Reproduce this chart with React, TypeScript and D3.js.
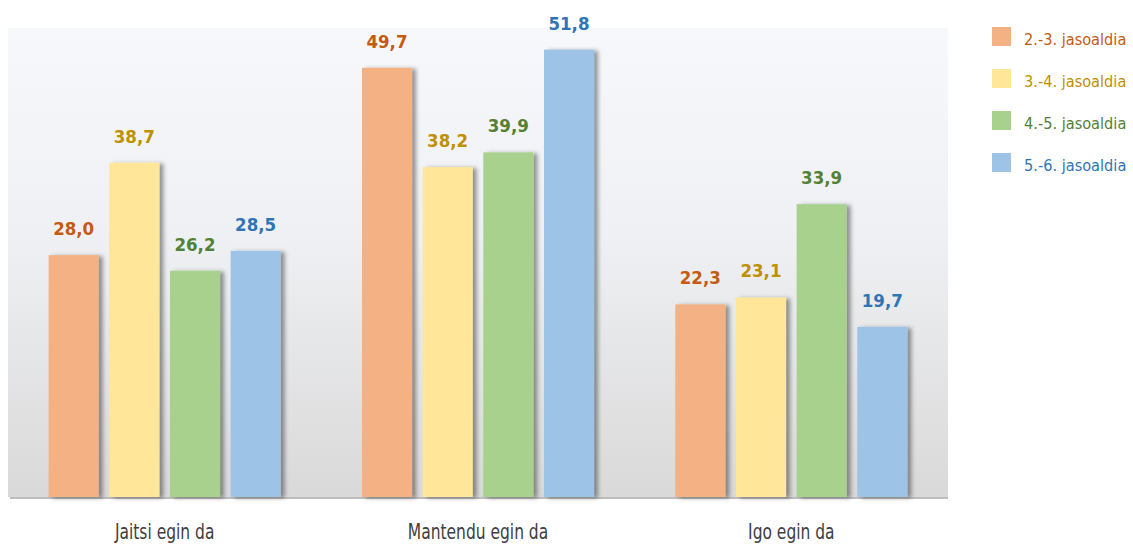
import React from 'react';
import * as d3 from 'd3';

const categories = ['Jaitsi egin da', 'Mantendu egin da', 'Igo egin da'];
const seriesNames = ['2.-3. jasoaldia', '3.-4. jasoaldia', '4.-5. jasoaldia', '5.-6. jasoaldia'];
const values2to3 = [28.0, 49.7, 22.3];
const values3to4 = [38.7, 38.2, 23.1];
const values4to5 = [26.2, 39.9, 33.9];
const values5to6 = [28.5, 51.8, 19.7];
const barColors = ['#f4b183', '#ffe699', '#a9d18e', '#9dc3e6'];
const textColors = ['#c55a11', '#bf9000', '#538135', '#2e75b6'];

const seriesValues = [values2to3, values3to4, values4to5, values5to6];
const font = '"DejaVu Sans Condensed", "DejaVu Sans", sans-serif';

export default function App() {
  const width = 1133;
  const height = 544;
  const plot = { left: 8, right: 948, top: 28, bottom: 497 };

  const x0 = d3.scaleBand().domain(categories).range([plot.left, plot.right]).padding(0);
  const x1 = d3
    .scaleBand()
    .domain(seriesNames)
    .range([0, x0.bandwidth()])
    .paddingInner(0.175)
    .paddingOuter(0.67);
  const y = d3.scaleLinear().domain([0, 54.3]).range([plot.bottom, plot.top]);

  const fmt = (v: number) => v.toFixed(1).replace('.', ',');

  return (
    <svg width={width} height={height} style={{ position: 'absolute', left: 0, top: 0 }}>
      <defs>
        <linearGradient id="bg" x1="0" y1="0" x2="0" y2="1">
          <stop offset="0%" stopColor="#f7f8fc" />
          <stop offset="45%" stopColor="#eff0f3" />
          <stop offset="100%" stopColor="#d9d9d9" />
        </linearGradient>
        <filter id="shadow" x="-20%" y="-10%" width="160%" height="120%">
          <feDropShadow dx="4" dy="1" stdDeviation="2" floodColor="#000" floodOpacity="0.4" />
        </filter>
      </defs>
      <rect x={plot.left} y={plot.top} width={plot.right - plot.left} height={plot.bottom - plot.top} fill="url(#bg)" />
      <line x1={plot.left + 2} x2={plot.right} y1={plot.bottom + 1} y2={plot.bottom + 1} stroke="#bdbdbd" strokeWidth={2} />

      {categories.map((cat, ci) => (
        <g key={cat} transform={`translate(${x0(cat)},0)`}>
          {seriesNames.map((s, si) => {
            const v = seriesValues[si][ci];
            const bx = x1(s)!;
            return (
              <g key={s}>
                <rect
                  x={bx}
                  y={y(v)}
                  width={x1.bandwidth()}
                  height={plot.bottom - y(v)}
                  fill={barColors[si]}
                  filter="url(#shadow)"
                />
                <text
                  x={bx + x1.bandwidth() / 2}
                  y={y(v) - 20}
                  textAnchor="middle"
                  fontFamily={font}
                  fontWeight="bold"
                  fontSize={18.5}
                  fill={textColors[si]}
                >
                  {fmt(v)}
                </text>
              </g>
            );
          })}
          <g transform={`translate(${x0.bandwidth() / 2},539) scale(0.84,1)`}>
            <text textAnchor="middle" fontFamily={font} fontSize={20.5} fill="#404040">
              {cat}
            </text>
          </g>
        </g>
      ))}

      {seriesNames.map((s, si) => (
        <g key={s} transform={`translate(992,${27 + si * 42})`}>
          <rect width={19} height={19} fill={barColors[si]} />
          <text x={32} y={18} fontFamily={font} fontSize={16.2} fill={textColors[si]}>
            {s}
          </text>
        </g>
      ))}
    </svg>
  );
}
